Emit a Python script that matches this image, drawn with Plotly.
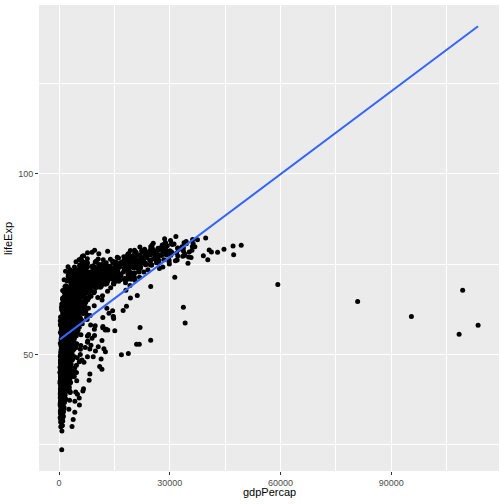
import numpy as np
import plotly.express as px
import plotly.graph_objects as go

# gapminder data (bundled with plotly)
gapminder = px.data.gapminder()
gdp_percap = gapminder["gdpPercap"].tolist()
life_exp = gapminder["lifeExp"].tolist()

x_ticks = [0, 30000, 60000, 90000]
x_labels = ["0", "30000", "60000", "90000"]
y_ticks = [50, 100]
y_labels = ["50", "100"]

# linear fit, like geom_smooth(method = "lm", se = FALSE)
slope, intercept = np.polyfit(gdp_percap, life_exp, 1)
fit_x = [min(gdp_percap), max(gdp_percap)]
fit_y = [intercept + slope * v for v in fit_x]

def expand(lo, hi, f=0.05):
    d = (hi - lo) * f
    return [lo - d, hi + d]

x_range = expand(min(gdp_percap), max(gdp_percap))
y_range = expand(min(min(life_exp), min(fit_y)), max(max(life_exp), max(fit_y)))

fig = go.Figure()
fig.add_trace(go.Scatter(
    x=gdp_percap, y=life_exp, mode="markers",
    marker=dict(size=5, color="black", line=dict(width=0)),
    showlegend=False,
))
fig.add_trace(go.Scatter(
    x=fit_x, y=fit_y, mode="lines",
    line=dict(color="#3366FF", width=2),
    showlegend=False,
))

axis_style = dict(
    showgrid=True, gridcolor="white", gridwidth=1.1,
    zeroline=False, showline=False, automargin=False,
    ticks="outside", ticklen=3, tickwidth=1, tickcolor="#333333",
    tickfont=dict(size=9, color="#4D4D4D"),
)

fig.update_layout(
    width=504, height=504,
    margin=dict(l=39, r=5, t=5, b=33),
    paper_bgcolor="white", plot_bgcolor="#EBEBEB",
    font=dict(family="Liberation Sans, Arial, sans-serif"),
    xaxis=dict(
        axis_style, range=x_range, tickvals=x_ticks, ticktext=x_labels,
        minor=dict(tickvals=[15000, 45000, 75000, 105000], showgrid=True,
                   gridcolor="white", gridwidth=0.5, ticks=""),
    ),
    yaxis=dict(
        axis_style, range=y_range, tickvals=y_ticks, ticktext=y_labels,
        minor=dict(tickvals=[25, 75, 125], showgrid=True,
                   gridcolor="white", gridwidth=0.5, ticks=""),
    ),
    annotations=[
        dict(text="gdpPercap", xref="paper", yref="paper", x=0.5, y=-0.03,
             yanchor="top", showarrow=False, borderpad=0,
             font=dict(size=11, color="black")),
        dict(text="lifeExp", xref="paper", yref="paper", x=-0.05, y=0.5,
             xanchor="right", textangle=-90, showarrow=False,
             font=dict(size=11, color="black")),
    ],
)

# drop the page's default body margin so the 504px figure fits the window
fig.write_html("out.html", config={"displayModeBar": False},
               post_script="document.body.style.margin='0';")
